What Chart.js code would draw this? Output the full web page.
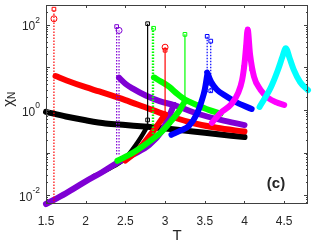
<!DOCTYPE html>
<html>
<head>
<meta charset="utf-8">
<script src="https://cdn.jsdelivr.net/npm/chart.js@4.4.1/dist/chart.umd.min.js"></script>
<style>
html,body{margin:0;padding:0;background:#fff;}
</style>
</head>
<body>
<canvas id="c" width="313" height="242"></canvas>
<script>
// axis ticks
const xTicks = [1.5, 2, 2.5, 3, 3.5, 4, 4.5];
const yTicks = [0.01, 1, 100];
const yExp = ['-2', '0', '2'];

// black
const tBlackHi = [1.5, 1.75, 2.0, 2.25, 2.5, 2.78, 3.1, 3.5, 4.0];
const chiBlackHi = [0.9, 0.7, 0.57, 0.48, 0.44, 0.4, 0.35, 0.29, 0.23];
const tBlackLo = [2.1, 2.3, 2.5, 2.65, 2.72, 2.78];
const chiBlackLo = [0.028, 0.042, 0.074, 0.17, 0.27, 0.42];
// red
const tRedHi = [1.62, 1.76, 2.0, 2.17, 2.5, 2.75, 3.0, 3.3, 3.65, 4.0];
const chiRedHi = [6.2, 4.9, 3.4, 2.7, 1.7, 1.15, 0.78, 0.52, 0.38, 0.31];
const tRedLo = [2.5, 2.65, 2.8, 2.92, 3.0];
const chiRedLo = [0.065, 0.11, 0.24, 0.48, 0.78];
// purple
const tPurpleHi = [2.42, 2.5, 2.6, 2.75, 2.93, 3.11, 3.42, 3.7, 4.0];
const chiPurpleHi = [5.7, 4.1, 3.1, 2.2, 1.6, 1.3, 0.8, 0.58, 0.44];
const tPurpleLo = [1.5, 1.75, 2.0, 2.2, 2.4, 2.6, 2.8, 2.95, 3.05, 3.11];
const chiPurpleLo = [0.0062, 0.011, 0.021, 0.034, 0.058, 0.09, 0.15, 0.3, 0.7, 1.3];
// green
const tGreenHi = [2.86, 2.95, 3.05, 3.15, 3.25, 3.4, 3.55, 3.7];
const chiGreenHi = [5.8, 4.6, 3.5, 2.4, 1.75, 1.3, 1.0, 0.82];
const tGreenLo = [2.4, 2.6, 2.8, 2.95, 3.07, 3.17, 3.25];
const chiGreenLo = [0.064, 0.1, 0.18, 0.3, 0.53, 0.9, 1.6];
// blue
const tBlueHi = [3.53, 3.58, 3.65, 3.75, 3.9, 4.09];
const chiBlueHi = [7.5, 4.5, 3.0, 2.2, 1.5, 1.05];
const tBlueLo = [3.08, 3.2, 3.3, 3.4, 3.46, 3.5, 3.53];
const chiBlueLo = [0.26, 0.33, 0.42, 0.8, 1.6, 3.0, 6.5];
// magenta, cyan
const tMagenta = [3.59, 3.7, 3.84, 3.92, 3.97, 4.0, 4.02, 4.04, 4.07, 4.12, 4.2, 4.3, 4.4, 4.5];
const chiMagenta = [0.5, 0.85, 1.4, 2.5, 5, 12, 30, 77, 20, 6, 3, 1.9, 1.5, 1.3];
const tCyan = [4.19, 4.25, 4.33, 4.42, 4.48, 4.52, 4.57, 4.62, 4.7, 4.8];
const chiCyan = [1.17, 1.8, 3.3, 8.5, 18, 28, 16, 8.8, 4.5, 2.9];

// vertical jumps: [T, chi bottom, chi top]
const vRedDot = [1.6, 0.0062, 230];
const vPurpleDot1 = [2.39, 0.09, 90];
const vPurpleDot2 = [2.42, 0.09, 73];
const vBlackSolid = [2.78, 0.42, 105];
const vGreenDot1 = [2.84, 0.27, 88];
const vGreenDot2 = [2.855, 0.27, 82];
const vRedSolid = [3.0, 0.78, 29.5];
const vGreenSolid = [3.25, 1.6, 59];
const vBlueDot1 = [3.53, 2.6, 53];
const vBlueDot2 = [3.575, 2.6, 41];

// open markers
const tRedSq = [1.6, 3.0], chiRedSq = [230, 25];
const tRedCirc = [1.6, 3.0], chiRedCirc = [137, 29.5];
const tPurpleSq = [2.39, 3.11], chiPurpleSq = [90, 1.35];
const tPurpleCirc = [2.42], chiPurpleCirc = [73];
const tBlackSq = [2.78, 2.78], chiBlackSq = [105, 0.58];
const tGreenSq = [2.855, 3.25], chiGreenSq = [82, 59];
const tBlueSq = [3.53, 3.575, 3.575, 3.55, 3.57], chiBlueSq = [53, 41, 2.8, 6.5, 4.2];
const tMagentaSq = [4.04, 4.03, 4.05, 4.02, 4.06, 4.01, 4.07, 3.99, 4.09], chiMagentaSq = [77, 50, 45, 30, 28, 18, 16, 10, 9];

const RED = '#ff0000', BLACK = '#000000', PURPLE = '#7f00d4', GREEN = '#00ff00',
      BLUE = '#0000ff', MAGENTA = '#ff00ff', CYAN = '#00ffff';
const FONT = '"Liberation Sans", Arial, Helvetica, sans-serif';

function pts(t, chi) {
  return t.map((v, i) => ({x: v, y: chi[i]}));
}

function band(t, chi, color, layer, w) {
  return {
    data: pts(t, chi), showLine: true, borderColor: color, borderWidth: w || 6,
    borderCapStyle: 'round', borderJoinStyle: 'round', pointRadius: 0,
    cubicInterpolationMode: 'monotone', order: 100 - layer, clip: false
  };
}

function jump(v, color, dotted, layer) {
  return {
    data: [{x: v[0], y: v[1]}, {x: v[0], y: v[2]}], showLine: true,
    borderColor: color, borderWidth: 1.2, borderDash: dotted ? [1.5, 1.5] : [],
    pointRadius: 0, order: 100 - layer, clip: false
  };
}

function marks(t, chi, color, style, layer) {
  return {
    data: pts(t, chi), showLine: false, pointStyle: style,
    pointRadius: style === 'rect' ? 2.6 : 3, pointBorderColor: color,
    pointBackgroundColor: 'rgba(255,255,255,0)', pointBorderWidth: 1,
    order: 100 - layer, clip: false
  };
}

const frame = {
  id: 'frame',
  afterDraw(chart) {
    const {ctx, chartArea: a, scales: {x, y}} = chart;
    ctx.save();
    ctx.strokeStyle = '#404040';
    ctx.lineWidth = 1;
    ctx.strokeRect(a.left + 0.5, a.top + 0.5, a.right - a.left - 1, a.bottom - a.top - 1);
    ctx.beginPath();
    xTicks.forEach(v => {
      const px = Math.round(x.getPixelForValue(v)) + 0.5;
      ctx.moveTo(px, a.bottom); ctx.lineTo(px, a.bottom - 3);
      ctx.moveTo(px, a.top); ctx.lineTo(px, a.top + 3);
    });
    for (let e = -3; e <= 2; e++) {
      for (let m = 1; m <= 9; m++) {
        const v = m * Math.pow(10, e);
        if (v < y.min || v > y.max) continue;
        const py = Math.round(y.getPixelForValue(v)) + 0.5;
        const len = m === 1 ? 4 : 2;
        ctx.moveTo(a.left, py); ctx.lineTo(a.left + len, py);
        ctx.moveTo(a.right, py); ctx.lineTo(a.right - len, py);
      }
    }
    ctx.stroke();

    // y tick labels with exponents
    ctx.fillStyle = '#262626';
    ctx.textBaseline = 'middle';
    yTicks.forEach((v, i) => {
      const py = y.getPixelForValue(v);
      ctx.font = '12px ' + FONT;
      const wBase = ctx.measureText('10').width;
      ctx.font = '8.5px ' + FONT;
      const wExp = ctx.measureText(yExp[i]).width;
      const right = a.left - 6;
      ctx.textAlign = 'left';
      ctx.fillText(yExp[i], right - wExp, py - 4);
      ctx.font = '12px ' + FONT;
      ctx.fillText('10', right - wExp - wBase, py + 2.5);
    });

    // axis titles
    ctx.font = '15px ' + FONT;
    ctx.textAlign = 'center';
    ctx.fillText('T', (a.left + a.right) / 2, 236);
    ctx.save();
    ctx.translate(9, 100);
    ctx.rotate(-Math.PI / 2);
    ctx.font = '15px ' + FONT;
    ctx.textAlign = 'right';
    ctx.fillText('\u03c7', 1, 0);
    ctx.font = '10px ' + FONT;
    ctx.textAlign = 'left';
    ctx.fillText('N', 1, 3);
    ctx.restore();

    ctx.font = 'bold 15px ' + FONT;
    ctx.textAlign = 'center';
    ctx.fillText('(c)', 276, 184);
    ctx.restore();
  }
};

new Chart(document.getElementById('c'), {
  type: 'scatter',
  data: {
    datasets: [
      band(tBlackLo, chiBlackLo, BLACK, 1, 4.5),
      band(tBlackHi, chiBlackHi, BLACK, 2),
      band(tRedHi, chiRedHi, RED, 3),
      band(tPurpleLo, chiPurpleLo, PURPLE, 4),
      band(tRedLo, chiRedLo, RED, 5),
      band(tPurpleHi, chiPurpleHi, PURPLE, 6),
      band(tGreenLo, chiGreenLo, GREEN, 7),
      band(tGreenHi, chiGreenHi, GREEN, 8),
      band(tBlueLo, chiBlueLo, BLUE, 9),
      band(tBlueHi, chiBlueHi, BLUE, 10),
      band(tMagenta, chiMagenta, MAGENTA, 11),
      band(tCyan, chiCyan, CYAN, 12),
      jump(vRedDot, RED, true, 20),
      jump(vPurpleDot1, PURPLE, true, 20),
      jump(vPurpleDot2, PURPLE, true, 20),
      jump(vBlackSolid, BLACK, false, 20),
      jump(vGreenDot1, GREEN, true, 20),
      jump(vGreenDot2, GREEN, true, 20),
      jump(vRedSolid, RED, false, 20),
      jump(vGreenSolid, GREEN, false, 20),
      jump(vBlueDot1, BLUE, true, 20),
      jump(vBlueDot2, BLUE, true, 20),
      marks(tRedSq, chiRedSq, RED, 'rect', 30),
      marks(tRedCirc, chiRedCirc, RED, 'circle', 30),
      marks(tPurpleSq, chiPurpleSq, PURPLE, 'rect', 30),
      marks(tPurpleCirc, chiPurpleCirc, PURPLE, 'circle', 30),
      marks(tBlackSq, chiBlackSq, BLACK, 'rect', 30),
      marks(tGreenSq, chiGreenSq, GREEN, 'rect', 30),
      marks(tBlueSq, chiBlueSq, BLUE, 'rect', 30),
      marks(tMagentaSq, chiMagentaSq, MAGENTA, 'rect', 30)
    ]
  },
  options: {
    responsive: false,
    animation: false,
    devicePixelRatio: 1,
    layout: {padding: {top: 1, right: 3, left: 0, bottom: 0}},
    plugins: {legend: {display: false}, tooltip: {enabled: false}},
    scales: {
      x: {
        type: 'linear', min: 1.5, max: 4.8,
        afterBuildTicks: s => { s.ticks = xTicks.map(v => ({value: v})); },
        afterFit: s => { s.height = 38; },
        grid: {display: false, drawTicks: false},
        border: {display: false},
        ticks: {color: '#262626', font: {size: 12, family: FONT}, padding: 10,
          maxRotation: 0, autoSkip: false, callback: v => String(v)}
      },
      y: {
        type: 'logarithmic', min: 0.0062, max: 288,
        afterFit: s => { s.width = 46; },
        grid: {display: false, drawTicks: false},
        border: {display: false},
        ticks: {display: false}
      }
    }
  },
  plugins: [frame]
});
</script>
</body>
</html>
